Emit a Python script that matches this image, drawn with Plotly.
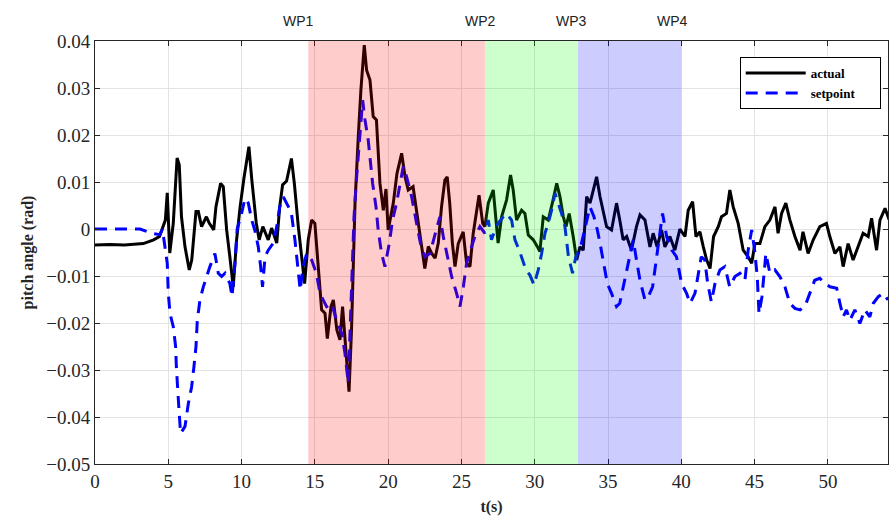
import plotly.graph_objects as go

# ---- data ----
t_actual = [0, 1, 2, 3, 3.3, 4.0, 4.4, 4.8, 4.93, 5.1, 5.34, 5.6, 5.75, 5.9, 6.14, 6.43, 6.6, 6.89, 7.05,
            7.27, 7.6, 7.8, 8.1, 8.25, 8.57, 8.75, 8.98, 9.2, 9.43, 9.66, 9.9, 10.16, 10.5, 10.7, 11.0,
            11.2, 11.45, 11.82, 12.05, 12.4, 12.6, 12.8, 13.07, 13.4, 13.6, 13.87, 14.1, 14.3, 14.55,
            14.78, 15.0, 15.23, 15.46, 15.69, 15.85, 16.1, 16.26, 16.5, 16.71, 16.89, 17.1, 17.33, 17.5,
            17.74, 17.96, 18.14, 18.37, 18.53, 18.76, 18.98, 19.2, 19.44, 19.67, 19.85, 20.0, 20.15, 20.35,
            20.6, 20.92, 21.15, 21.37, 21.7, 22.05, 22.28, 22.5, 22.74, 22.97, 23.2, 23.42, 23.64, 23.87,
            24.03, 24.2, 24.38, 24.56, 24.78, 25.12, 25.35, 25.58, 25.8, 26.0, 26.2, 26.45, 26.6, 26.83,
            27.17, 27.5, 27.74, 28.08, 28.35, 28.53, 28.76, 29.1, 29.33, 29.56, 29.9, 30.17, 30.35, 30.58,
            30.92, 31.2, 31.5, 31.72, 31.95, 32.13, 32.35, 32.63, 32.86, 33.08, 33.31, 33.54, 33.77, 34.0,
            34.22, 34.45, 34.67, 34.9, 35.24, 35.58, 35.8, 36.03, 36.27, 36.6, 36.94, 37.18, 37.52, 37.86,
            38.08, 38.35, 38.65, 38.88, 39.22, 39.56, 39.9, 40.25, 40.47, 40.77, 41.0, 41.27, 41.5, 41.73,
            41.96, 42.2, 42.52, 42.74, 43.08, 43.31, 43.54, 43.88, 44.22, 44.56, 44.8, 45.02, 45.36, 45.7,
            46.04, 46.39, 46.6, 46.84, 47.13, 47.4, 47.75, 48.1, 48.3, 48.65, 49.0, 49.45, 49.9, 50.13,
            50.48, 50.82, 51.04, 51.38, 51.72, 52.06, 52.4, 52.75, 52.98, 53.32, 53.55, 53.9, 54.17]
actual = [-0.0034, -0.0033, -0.0034, -0.0032, -0.0031, -0.0023, -0.0016, 0.0019, 0.0077, -0.0051, 0.0012,
          0.0151, 0.0136, 0.0026, -0.0038, -0.0087, -0.0066, 0.0037, 0.0037, 0.0005, 0.0026, 0.0012,
          -0.0002, 0.0047, 0.0097, 0.0090, -0.0002, -0.0059, -0.0123, -0.0023, 0.0047, 0.0108, 0.0175,
          0.0104, 0.0013, -0.0023, 0.0005, -0.0023, 0.0002, -0.0030, 0.0047, 0.0094, 0.0102, 0.0150,
          0.0097, 0.0005, -0.0059, -0.0116, -0.0023, 0.0019, 0.0012, -0.0087, -0.0172, -0.0179, -0.0233,
          -0.0165, -0.0151, -0.0215, -0.0236, -0.0165, -0.0243, -0.0346, -0.0215, 0.0055, 0.0196, 0.0296,
          0.0391, 0.0338, 0.0317, 0.0239, 0.0232, 0.0097, 0.0040, 0.0085, -0.0002, 0.0026, 0.0055, 0.0118,
          0.0161, 0.0111, 0.0083, 0.0090, 0.0012, -0.0030, -0.0084, -0.0037, -0.0052, -0.0062, -0.0030,
          0.0047, 0.0104, 0.0111, 0.0055, -0.0030, -0.0080, -0.0031, -0.0006, -0.0073, -0.0080, -0.0010,
          0.0033, 0.0072, 0.0012, 0.0005, 0.0055, 0.0083, -0.0030, 0.0026, 0.0062, 0.0115, 0.0083, 0.0019,
          0.0040, 0.0033, -0.0013, -0.0023, -0.0037, -0.0048, 0.0026, 0.0019, 0.0055, 0.0097, 0.0069,
          0.0026, 0.0005, 0.0033, -0.0017, -0.0066, -0.0038, -0.0045, 0.0069, 0.0055, 0.0083, 0.0111,
          0.0069, 0.0040, 0.0005, -0.0002, 0.0055, 0.0019, -0.0023, -0.0016, -0.0045, 0.0005, 0.0030,
          0.0019, -0.0038, -0.0009, -0.0038, -0.0002, -0.0038, -0.0016, -0.0045, 0.0000, -0.0016, 0.0040,
          0.0058, -0.0016, -0.0006, -0.0038, -0.0066, -0.0084, -0.0016, 0.0005, 0.0026, 0.0033, 0.0083,
          0.0047, 0.0012, -0.0045, -0.0059, -0.0073, -0.0031, -0.0031, 0.0005, 0.0019, 0.0047, -0.0009,
          0.0033, 0.0055, 0.0020, -0.0016, -0.0045, -0.0006, -0.0052, -0.0023, 0.0005, 0.0012, -0.0016,
          -0.0052, -0.0038, -0.0080, -0.0031, -0.0066, -0.0038, -0.0009, -0.0016, 0.0023, -0.0045, 0.0019,
          0.0044, 0.0020]

t_setpoint = [0, 3.07, 3.98, 4.43, 4.6, 4.78, 4.93, 5.0, 5.12, 5.34, 5.5, 5.55, 5.62, 5.73, 5.84, 6.14, 6.37,
              6.59, 6.75, 6.89, 6.98, 7.16, 7.39, 7.61, 7.84, 8.18, 8.41, 8.64, 8.87, 9.2, 9.35, 9.55, 9.7,
              10.0, 10.23, 10.46, 10.69, 10.9, 11.14, 11.3, 11.43, 11.6, 11.82, 12.16, 12.4, 12.6, 12.85,
              13.2, 13.4, 13.64, 13.87, 14.0, 14.2, 14.44, 14.78, 15.1, 15.35, 15.8, 16.14, 16.48, 16.83,
              17.05, 17.28, 17.4, 17.51, 17.67, 17.85, 18.03, 18.26, 18.42, 18.64, 18.8, 18.94, 19.17,
              19.32, 19.55, 19.78, 20.08, 20.3, 20.57, 21.03, 21.26, 21.6, 21.94, 22.2, 22.5, 22.85, 23.3,
              23.53, 23.76, 24.03, 24.33, 24.67, 24.9, 25.13, 25.35, 25.69, 25.92, 26.26, 26.6, 26.83,
              27.05, 27.29, 27.5, 27.85, 28.08, 28.42, 28.65, 28.94, 29.17, 29.4, 29.67, 29.95, 30.24,
              30.47, 30.7, 30.92, 31.15, 31.38, 31.6, 31.83, 32.06, 32.3, 32.58, 32.8, 33.08, 33.35, 33.58,
              33.77, 34.04, 34.27, 34.5, 34.72, 34.95, 35.24, 35.58, 35.8, 36.08, 36.38, 36.72, 36.94,
              37.18, 37.52, 37.75, 38.04, 38.27, 38.54, 38.72, 39.0, 39.35, 39.67, 40.02, 40.36, 40.6,
              40.93, 41.13, 41.36, 41.6, 41.8, 42.05, 42.3, 42.63, 42.97, 43.3, 43.66, 44.0, 44.34, 44.56,
              44.8, 45.0, 45.18, 45.3, 45.5, 45.77, 46.04, 46.38, 46.72, 47.07, 47.4, 47.75, 48.1, 48.43,
              48.77, 49.1, 49.45, 49.8, 50.14, 50.6, 50.82, 51.04, 51.27, 51.5, 51.84, 52.18, 52.52, 52.86,
              53.1, 53.44, 53.78, 54.1]
setpoint = [0.0, 0.0, -0.0010, -0.0012, 0.0000, -0.0038, -0.0073, -0.0137, -0.0180, -0.0208, -0.0250,
            -0.0293, -0.0336, -0.0385, -0.0435, -0.0420, -0.0371, -0.0336, -0.0293, -0.0250, -0.0194,
            -0.0151, -0.0123, -0.0101, -0.0080, -0.0052, -0.0094, -0.0101, -0.0094, -0.0116, -0.0144,
            -0.0073, 0.0000, 0.0033, 0.0065, 0.0055, 0.0019, -0.0002, -0.0038, -0.0080, -0.0123, -0.0059,
            -0.0045, -0.0030, 0.0005, 0.0047, 0.0068, 0.0047, 0.0033, -0.0023, -0.0087, -0.0130, -0.0080,
            -0.0052, -0.0066, -0.0094, -0.0137, -0.0165, -0.0158, -0.0194, -0.0222, -0.0264, -0.0328,
            -0.0215, -0.0087, 0.0026, 0.0111, 0.0182, 0.0274, 0.0232, 0.0189, 0.0140, 0.0097, 0.0047,
            -0.0002, -0.0052, -0.0080, -0.0030, 0.0019, 0.0055, 0.0133, 0.0111, 0.0069, 0.0012, -0.0030,
            -0.0059, -0.0052, 0.0000, 0.0026, -0.0016, -0.0059, -0.0101, -0.0137, -0.0165, -0.0123,
            -0.0073, -0.0038, -0.0016, 0.0005, -0.0009, 0.0019, -0.0023, -0.0002, 0.0012, 0.0026, 0.0033,
            0.0019, -0.0023, -0.0045, -0.0066, -0.0087, -0.0098, -0.0119, -0.0087, -0.0052, -0.0009,
            0.0012, 0.0040, 0.0076, 0.0055, 0.0033, 0.0005, -0.0059, -0.0094, -0.0059, -0.0045, -0.0010,
            0.0019, 0.0047, 0.0026, -0.0002, -0.0038, -0.0080, -0.0116, -0.0137, -0.0165, -0.0158,
            -0.0116, -0.0073, -0.0023, -0.0066, -0.0109, -0.0151, -0.0144, -0.0123, -0.0066, 0.0000,
            0.0033, -0.0016, -0.0045, -0.0059, -0.0116, -0.0137, -0.0158, -0.0137, -0.0101, -0.0059,
            -0.0066, -0.0116, -0.0155, -0.0116, -0.0087, -0.0080, -0.0123, -0.0101, -0.0094, -0.0109,
            -0.0045, -0.0002, -0.0045, -0.0101, -0.0180, -0.0144, -0.0052, -0.0094, -0.0087, -0.0101,
            -0.0123, -0.0158, -0.0169, -0.0172, -0.0165, -0.0137, -0.0109, -0.0105, -0.0116, -0.0123,
            -0.0126, -0.0158, -0.0187, -0.0172, -0.0194, -0.0172, -0.0201, -0.0172, -0.0187, -0.0158,
            -0.0144, -0.0137, -0.0151]

wp_names = ["WP1", "WP2", "WP3", "WP4"]
wp_label_t = [13.9, 26.3, 32.5, 39.4]
seg_start = [14.55, 26.6, 32.95]
seg_end = [26.6, 32.95, 40.0]
seg_colors = ["rgba(255,0,0,0.2)", "rgba(0,255,0,0.2)", "rgba(0,0,255,0.2)"]

x_ticks = [0, 5, 10, 15, 20, 25, 30, 35, 40, 45, 50]
y_ticks = [0.04, 0.03, 0.02, 0.01, 0, -0.01, -0.02, -0.03, -0.04, -0.05]
y_ticktext = ["0.04", "0.03", "0.02", "0.01", "0", "\u22120.01", "\u22120.02", "\u22120.03",
              "\u22120.04", "\u22120.05"]

serif = "Liberation Serif"
pad = "\u00a0" * 6

fig = go.Figure()
fig.add_trace(go.Scatter(x=t_actual, y=actual, mode="lines", name="actual" + pad,
                         line=dict(color="black", width=3)))
fig.add_trace(go.Scatter(x=t_setpoint, y=setpoint, mode="lines", name="setpoint" + pad,
                         line=dict(color="blue", width=3, dash="12px,8px")))

for s, e, c in zip(seg_start, seg_end, seg_colors):
    fig.add_shape(type="rect", xref="x", yref="paper", x0=s, x1=e, y0=0, y1=1,
                  fillcolor=c, line=dict(width=0), layer="above")

for name, tt in zip(wp_names, wp_label_t):
    fig.add_annotation(x=tt, y=1.0, xref="x", yref="paper", yshift=10, text=name,
                       showarrow=False, font=dict(family="Liberation Sans", size=14, color="#222"),
                       yanchor="bottom")

fig.update_layout(
    width=889, height=518,
    margin=dict(l=95, r=1, t=41, b=54),
    paper_bgcolor="white", plot_bgcolor="white",
    showlegend=True,
    legend=dict(x=0.813, y=0.962, xanchor="left", yanchor="top",
                bgcolor="white", bordercolor="black", borderwidth=1,
                font=dict(family=serif, size=13, color="black", weight="bold"),
                itemwidth=60, tracegroupgap=2),
    xaxis=dict(range=[0, 54.1], tickvals=x_ticks, ticktext=[str(v) for v in x_ticks],
               showgrid=True, gridcolor="#e3e3e3", gridwidth=1, zeroline=False,
               showline=True, linecolor="#262626", linewidth=1, mirror="ticks",
               ticks="inside", ticklen=5, tickcolor="#262626",
               tickfont=dict(family=serif, size=19, color="#262626"),
               title=dict(text="<b>t(s)</b>", font=dict(family=serif, size=16, color="#262626"),
                          standoff=10)),
    yaxis=dict(range=[-0.05, 0.04], tickvals=y_ticks, ticktext=y_ticktext,
               showgrid=True, gridcolor="#e3e3e3", gridwidth=1, zeroline=False,
               showline=True, linecolor="#262626", linewidth=1, mirror="ticks",
               ticks="inside", ticklen=5, tickcolor="#262626",
               tickfont=dict(family=serif, size=19, color="#262626"),
               title=dict(text="<b>pitch angle (rad)</b>",
                          font=dict(family=serif, size=16, color="#262626"), standoff=8)),
)

fig.write_html("out.html")
